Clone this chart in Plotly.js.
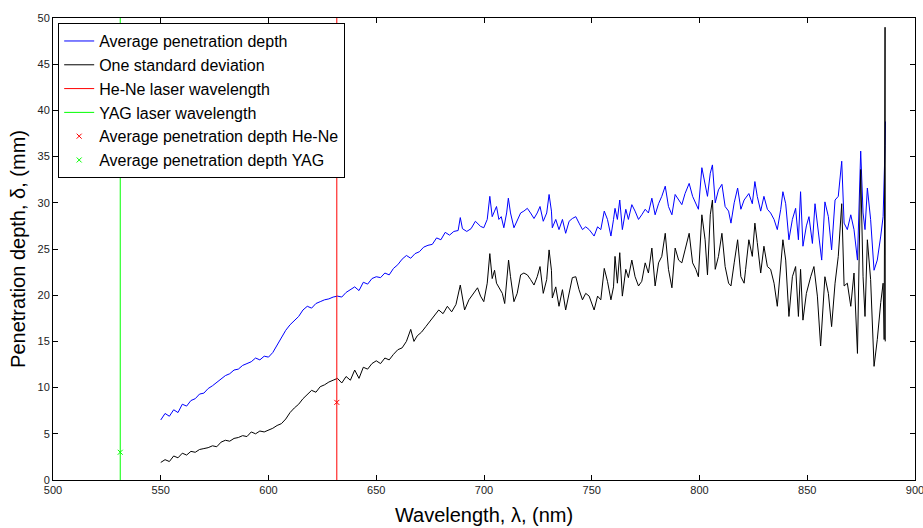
<!DOCTYPE html>
<html>
<head>
<meta charset="utf-8">
<script src="https://cdn.plot.ly/plotly-3.0.1.min.js"></script>
<style>html,body{margin:0;padding:0;background:#fff;}#chart{width:923px;height:528px;}</style>
</head>
<body>
<div id="chart"></div>
<script>
// Average penetration depth (blue)
const avgWavelength = [550,552,554,556,558,560,562,564,566,568,570,572,574,576,578,580,582,584,586,588,590,592,594,596,598,600,602,604,606,608,610,612,614,616,618,620,622,624,626,628,630,632,634,636,638,640,642,644,646,648,650,652,654,656,658,660,662,664,666,668,670,672,674,676,678,680,682,684,686,688,689,690,692,694,696,
698.4,699.9,701.5,702.7,703.8,704.9,705.8,706.9,708.0,709.2,710.5,711.3,712.3,713.9,715.4,717.0,718.5,720.1,721.6,723.2,724.7,726.0,727.5,729.1,730.2,731.3,731.7,733.3,734.8,736.4,737.9,739.5,741.0,742.6,744.1,745.7,747.2,748.8,751.1,752.7,754.2,755.8,757.3,758.9,760.1,
760.8,761.9,763.0,764.2,765.8,767.0,768.6,770.1,771.7,773.2,774.8,776.3,777.9,779.4,781.0,782.5,784.1,785.6,787.2,788.7,790.3,791.8,793.3,795.2,796.8,798.3,799.5,801.1,802.6,803.7,805.0,806.0,807.3,808.8,810.4,811.9,813.5,814.6,816.1,817.7,819.2,820.7,
822.9,824.5,825.7,826.8,828.4,829.9,831.5,833.0,834.6,836.1,837.7,838.7,840.0,841.5,843.1,844.6,845.9,846.9,848.0,849.6,850.8,852.4,853.6,855.1,856.7,858.2,859.8,861.3,862.9,864.4,866.0,867.1,868.6,870.2,871.7,873.3,874.8,875.9,876.8,877.9,879.4,881.0,882.5,884.1,885.2,886.1,886.3];
const avgDepth = [6.5,7.2,6.9,7.6,7.3,8.2,8.0,8.6,8.8,9.3,9.4,9.9,10.2,10.6,10.9,11.3,11.5,11.9,12.0,12.4,12.6,12.8,13.2,13.0,13.4,13.3,13.8,14.6,15.4,16.2,16.8,17.3,17.7,18.4,18.8,18.6,19.1,19.3,19.5,19.6,19.8,19.9,19.8,20.3,20.6,20.9,20.5,21.4,21.2,21.8,22.0,21.9,22.4,22.2,22.9,23.3,23.9,24.3,24.0,24.5,24.7,25.2,25.4,25.5,26.2,26.0,26.8,26.5,26.9,27.0,28.4,27.2,26.9,27.2,28.0,
27.45,27.3,28.2,30.7,28.5,29.1,29.6,28.2,28.5,27.3,28.9,30.5,28.9,27.3,28.0,28.9,29.1,29.4,28.9,28.3,28.9,29.6,28.0,28.9,30.9,29.1,27.3,28.2,27.1,28.2,26.7,28.0,28.3,28.5,27.8,27.1,27.4,27.1,26.4,27.4,27.1,29.1,28.2,26.4,28.2,
29.4,28.2,30.3,27.1,29.3,28.2,29.8,29.1,28.2,28.7,29.3,28.9,30.5,28.7,29.9,30.7,31.8,29.6,28.7,30.9,30.3,29.8,31.0,32.1,30.7,30.0,29.3,33.8,31.8,30.7,33.2,34.1,30.0,31.4,32.0,29.6,29.1,27.8,30.0,31.6,29.3,30.3,
31.0,29.9,32.3,30.7,29.1,30.7,29.3,28.9,28.2,27.1,29.3,31.2,29.9,26.0,28.2,29.4,26.0,31.2,25.3,27.5,28.5,25.6,29.9,26.7,23.8,30.1,28.5,24.9,30.3,30.7,34.5,27.8,27.1,28.7,27.1,23.8,35.6,28.9,27.1,31.6,28.2,22.7,23.8,26.4,28.5,36.2,38.8];

// One standard deviation (black)
const stdWavelength = [550,552,554,556,558,560,562,564,566,568,570,572,574,576,578,580,582,584,586,588,590,592,594,596,598,600,602,604,606,608,610,612,614,616,618,620,622,624,626,628,630,632,634,636,638,640,642,644,646,648,650,652,654,656,658,660,662,664,666,667.5,669,671,673,675,677,679,681,683,685,687,689,691,693,695,697,
698.4,699.9,701.5,702.7,703.8,704.9,705.8,707.4,708.5,709.6,710.5,711.4,712.3,713.9,715.4,717.0,718.5,720.1,721.6,723.2,724.7,726.0,727.5,729.1,730.2,731.3,731.7,733.3,734.8,736.4,737.9,739.5,741.0,742.6,744.1,745.7,747.2,748.8,751.1,752.7,754.2,755.8,757.3,758.9,760.1,
760.8,761.9,763.0,764.2,765.8,767.0,768.6,770.1,771.7,773.2,774.8,776.3,777.9,779.4,781.0,782.5,784.1,785.6,787.2,788.7,790.3,791.8,793.3,795.2,796.8,798.3,799.5,801.1,802.6,803.7,805.0,806.0,807.3,808.8,810.4,811.9,813.5,814.6,816.1,817.7,819.2,820.7,
821.4,822.9,824.5,825.7,826.8,828.4,829.9,831.5,833.0,834.6,836.1,837.7,838.7,840.0,841.5,843.1,844.6,845.9,846.9,848.0,849.6,851.6,853.1,854.7,856.2,858.2,859.8,861.3,862.9,864.4,866.0,867.1,868.6,870.2,871.7,873.3,874.8,875.9,876.8,877.9,879.4,881.0,882.5,884.1,885.2,885.7,886.1,886.2];
const stdDepth = [1.9,2.2,2.0,2.6,2.4,2.9,2.7,3.1,3.0,3.3,3.4,3.5,3.7,3.6,4.1,4.3,4.2,4.5,4.6,4.8,4.7,5.2,5.0,5.3,5.2,5.4,5.6,5.9,6.1,6.6,7.3,7.8,8.2,8.8,9.2,9.7,9.5,10.1,10.3,10.6,10.8,11.0,10.5,11.2,10.8,11.9,11.0,12.2,12.0,12.6,12.9,12.6,13.2,13.0,13.6,14.1,14.3,15.0,16.3,15.0,15.6,16.0,16.6,17.2,17.8,18.4,18.0,18.8,18.2,19.0,21.1,18.4,19.5,20.2,20.8,
19.9,19.3,21.3,24.5,21.8,22.7,21.3,20.6,20.2,19.1,21.7,23.8,22.0,19.3,20.2,22.2,22.4,22.2,21.7,21.1,22.0,23.1,20.2,21.7,24.9,22.7,19.7,20.9,18.8,20.6,18.4,20.2,21.9,22.0,20.6,19.5,20.2,19.9,18.4,19.9,19.5,22.9,21.5,19.5,20.9,
24.2,21.3,24.6,19.9,22.8,21.9,23.8,22.0,21.0,21.5,23.5,22.4,25.1,21.0,23.5,24.2,26.7,22.8,20.8,25.1,23.8,23.5,24.9,26.7,23.5,22.8,22.0,28.7,26.0,22.2,28.7,30.3,22.8,24.2,26.7,23.1,21.3,21.0,23.5,26.0,22.0,21.3,
22.8,26.0,24.2,27.8,25.7,22.4,25.3,23.1,22.8,21.3,18.8,23.5,26.0,23.8,17.7,22.0,23.1,17.7,22.8,17.3,20.2,22.0,23.1,19.9,14.5,22.0,20.2,16.6,21.3,24.2,29.9,21.0,21.3,18.8,22.4,13.7,33.6,22.0,17.7,26.0,21.7,12.3,15.2,19.2,21.3,15.2,49.0,15.0];

// Laser wavelengths and penetration depths
const heNeWavelength = 631.7;
const yagWavelength = 531.2;
const heNeDepth = 8.4;
const yagDepth = 3.0;
const yRange = [0, 50];
const xRange = [500, 900];
const xTicks = [500,550,600,650,700,750,800,850,900];
const yTicks = [0,5,10,15,20,25,30,35,40,45,50];

const traces = [
  {x: avgWavelength, y: avgDepth, type: 'scatter', mode: 'lines', name: 'Average penetration depth',
   line: {color: '#0000ff', width: 1}},
  {x: stdWavelength, y: stdDepth, type: 'scatter', mode: 'lines', name: 'One standard deviation',
   line: {color: '#000000', width: 1}},
  {x: [heNeWavelength, heNeWavelength], y: yRange, type: 'scatter', mode: 'lines', name: 'He-Ne laser wavelength',
   line: {color: '#ff0000', width: 1}},
  {x: [yagWavelength, yagWavelength], y: yRange, type: 'scatter', mode: 'lines', name: 'YAG laser wavelength',
   line: {color: '#00ff00', width: 1}},
  {x: [heNeWavelength], y: [heNeDepth], type: 'scatter', mode: 'markers', name: 'Average penetration depth He-Ne',
   marker: {symbol: 'x-thin', size: 5, color: '#ff0000', line: {color: '#ff0000', width: 1}}},
  {x: [yagWavelength], y: [yagDepth], type: 'scatter', mode: 'markers', name: 'Average penetration depth YAG',
   marker: {symbol: 'x-thin', size: 5, color: '#00ff00', line: {color: '#00ff00', width: 1}}}
];

const tickFont = {family: 'Liberation Sans, Arial, sans-serif', size: 11, color: '#222'};
const titleFont = {family: 'Liberation Sans, Arial, sans-serif', size: 20, color: '#000'};

const layout = {
  width: 923, height: 528,
  margin: {l: 53, r: 8, t: 18, b: 48, pad: 0},
  paper_bgcolor: '#ffffff', plot_bgcolor: '#ffffff',
  showlegend: true,
  legend: {
    x: 0.006, y: 0.989, xanchor: 'left', yanchor: 'top',
    bgcolor: '#ffffff', bordercolor: '#000000', borderwidth: 1,
    font: {family: 'Liberation Sans, Arial, sans-serif', size: 16, color: '#000'},
    itemwidth: 30
  },
  xaxis: {
    range: xRange, tickvals: xTicks, ticktext: xTicks.map(String),
    ticks: 'inside', ticklen: 5, tickcolor: '#000', showline: true, linecolor: '#000', linewidth: 1,
    mirror: 'allticks', showgrid: false, zeroline: false, tickfont: tickFont,
    ticklabeloverflow: 'allow',
    title: {text: 'Wavelength, λ, (nm)', font: titleFont, standoff: 12}
  },
  yaxis: {
    range: yRange, tickvals: yTicks, ticktext: yTicks.map(String),
    ticks: 'inside', ticklen: 5, tickcolor: '#000', showline: true, linecolor: '#000', linewidth: 1,
    mirror: 'allticks', showgrid: false, zeroline: false, tickfont: tickFont,
    title: {text: 'Penetration depth, δ, (mm)', font: titleFont, standoff: 6}
  }
};

Plotly.newPlot('chart', traces, layout, {displayModeBar: false, staticPlot: true});
</script>
</body>
</html>
